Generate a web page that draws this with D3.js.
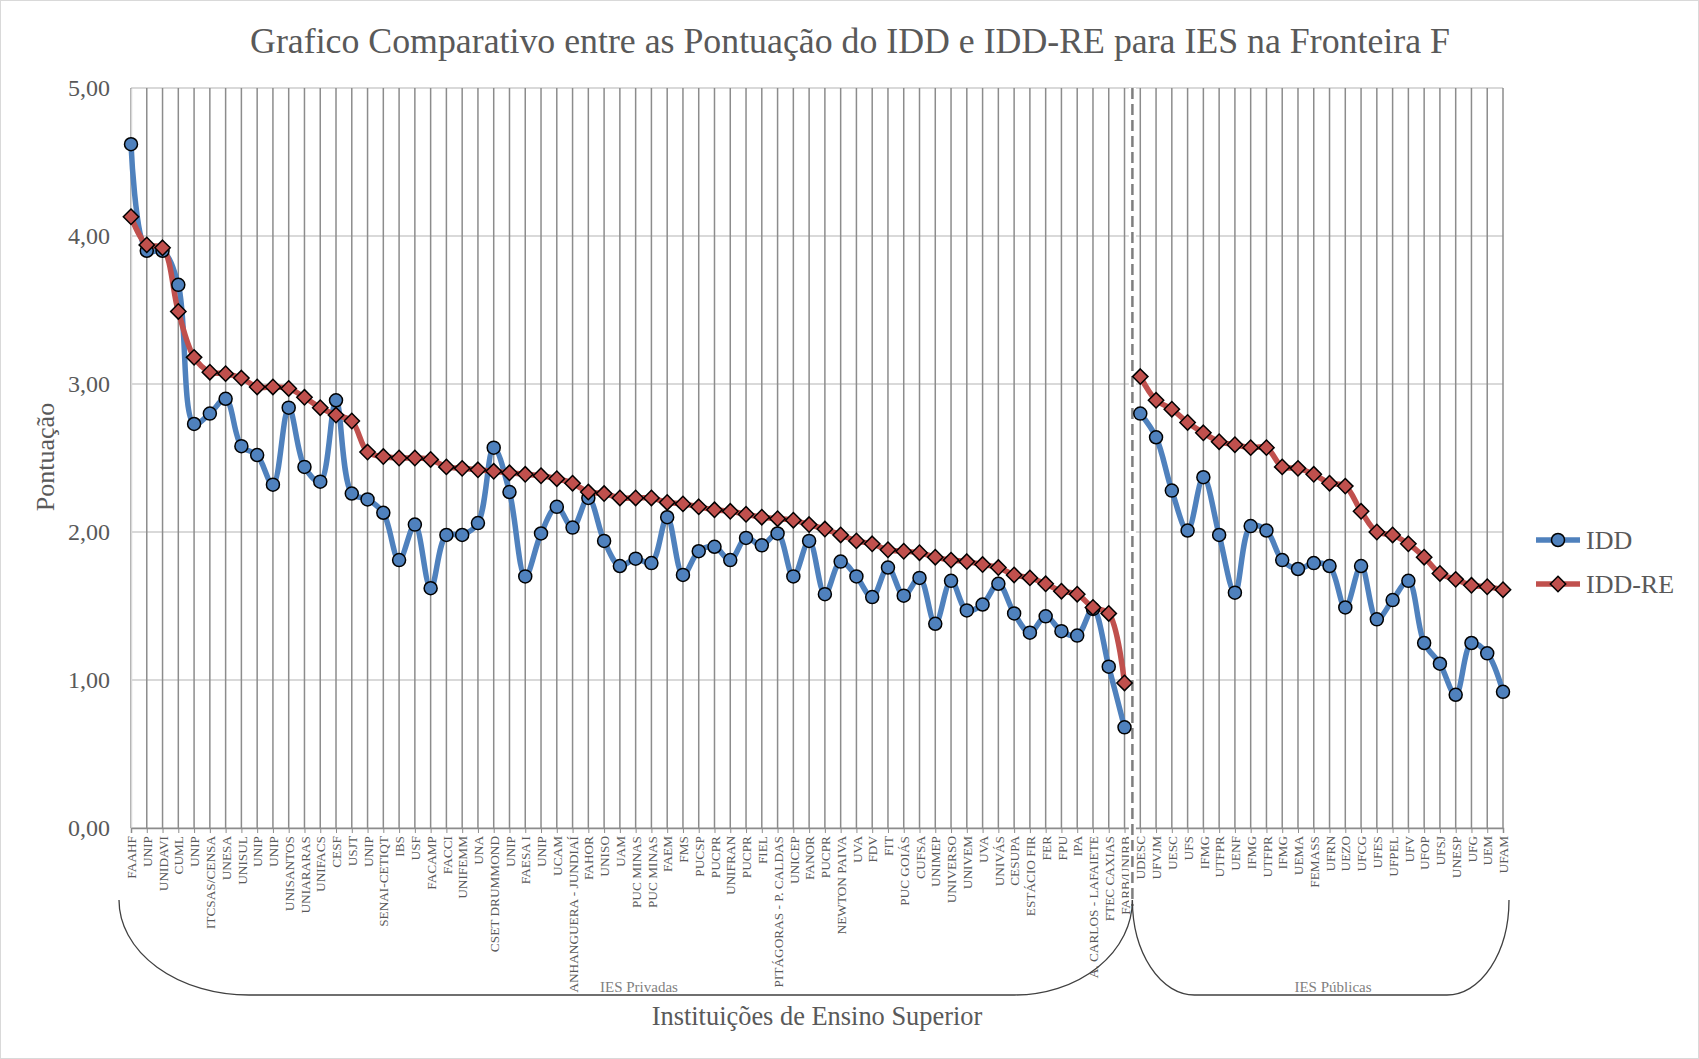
<!DOCTYPE html>
<html>
<head>
<meta charset="utf-8">
<script src="https://cdn.jsdelivr.net/npm/d3@7"></script>
<style>
  body { margin: 0; background: #fff; }
  svg { display: block; font-family: "Liberation Serif", "Times New Roman", serif; }
  .tick text { fill: #595959; }
</style>
</head>
<body>
<div id="chart"></div>
<script>
// categories (private then public)
var privadas = ["FAAHF","UNIP","UNIDAVI","CUML","UNIP","ITCSAS/CENSA","UNESA","UNISUL","UNIP","UNIP",
  "UNISANTOS","UNIARARAS","UNIFACS","CESF","USJT","UNIP","SENAI-CETIQT","IBS","USF","FACAMP",
  "FACCI","UNIFEMM","UNA","CSET DRUMMOND","UNIP","FAESA I","UNIP","UCAM","ANHANGUERA - JUNDIAÍ","FAHOR",
  "UNISO","UAM","PUC MINAS","PUC MINAS","FAEM","FMS","PUCSP","PUCPR","UNIFRAN","PUCPR",
  "FIEL","PITÁGORAS - P. CALDAS","UNICEP","FANOR","PUCPR","NEWTON PAIVA","UVA","FDV","FIT","PUC GOIÁS",
  "CUFSA","UNIMEP","UNIVERSO","UNIVEM","UVA","UNIVÁS","CESUPA","ESTÁCIO FIR","FER","FPU",
  "IPA","A. CARLOS - LAFAIETE","FTEC CAXIAS","FARB/UNIRB"];
var publicas = ["UDESC","UFVJM","UESC","UFS","IFMG","UTFPR","UENF","IFMG","UTFPR","IFMG",
  "UEMA","FEMASS","UFRN","UEZO","UFCG","UFES","UFPEL","UFV","UFOP","UFSJ",
  "UNESP","UFG","UEM","UFAM"];

// IDD scores
var iddPrivadas = [4.62,3.90,3.90,3.67,2.73,2.80,2.90,2.58,2.52,2.32,
  2.84,2.44,2.34,2.89,2.26,2.22,2.13,1.81,2.05,1.62,
  1.98,1.98,2.06,2.57,2.27,1.70,1.99,2.17,2.03,2.23,
  1.94,1.77,1.82,1.79,2.10,1.71,1.87,1.90,1.81,1.96,
  1.91,1.99,1.70,1.94,1.58,1.80,1.70,1.56,1.76,1.57,
  1.69,1.38,1.67,1.47,1.51,1.65,1.45,1.32,1.43,1.33,
  1.30,1.48,1.09,0.68];
var iddPublicas = [2.80,2.64,2.28,2.01,2.37,1.98,1.59,2.04,2.01,1.81,
  1.75,1.79,1.77,1.49,1.77,1.41,1.54,1.67,1.25,1.11,
  0.90,1.25,1.18,0.92];

// IDD-RE scores
var ideRePrivadas = [4.13,3.94,3.92,3.49,3.18,3.08,3.07,3.04,2.98,2.98,
  2.97,2.91,2.84,2.79,2.75,2.54,2.51,2.50,2.50,2.49,
  2.44,2.43,2.42,2.41,2.40,2.39,2.38,2.36,2.33,2.27,
  2.26,2.23,2.23,2.23,2.20,2.19,2.17,2.15,2.14,2.12,
  2.10,2.09,2.08,2.05,2.02,1.98,1.94,1.92,1.88,1.87,
  1.86,1.83,1.81,1.80,1.78,1.76,1.71,1.69,1.65,1.60,
  1.58,1.49,1.45,0.98];
var ideRePublicas = [3.05,2.89,2.83,2.74,2.67,2.61,2.59,2.57,2.57,2.44,
  2.43,2.39,2.33,2.31,2.14,2.00,1.98,1.92,1.83,1.72,
  1.68,1.64,1.63,1.61];

var yTicks = [0,1,2,3,4,5];

var svgWidth = 1699;
var svgHeight = 1059;

// plot area
var plot = { left: 131, right: 1503, top: 88, bottom: 828 };

var categorias = privadas.concat(publicas);
var nPriv = privadas.length;

var svg = d3.select("#chart")
  .append("svg")
  .attr("width", svgWidth)
  .attr("height", svgHeight);

// outer border
svg.append("rect")
  .attr("x", 0.5).attr("y", 0.5)
  .attr("width", svgWidth - 1).attr("height", svgHeight - 1)
  .attr("fill", "#fff")
  .attr("stroke", "#d9d9d9");

var xScale = d3.scalePoint()
  .domain(d3.range(categorias.length))
  .range([plot.left, plot.right]);

var yScale = d3.scaleLinear()
  .domain([0, 5])
  .range([plot.bottom, plot.top]);

// horizontal gridlines
svg.append("g")
  .selectAll("line")
  .data(yTicks)
  .enter()
  .append("line")
  .attr("x1", plot.left).attr("x2", plot.right)
  .attr("y1", d => yScale(d)).attr("y2", d => yScale(d))
  .attr("stroke", "#d9d9d9")
  .attr("stroke-width", 2);

// vertical gridlines
svg.append("g")
  .selectAll("line")
  .data(d3.range(categorias.length))
  .enter()
  .append("line")
  .attr("x1", d => xScale(d)).attr("x2", d => xScale(d))
  .attr("y1", plot.top).attr("y2", plot.bottom)
  .attr("stroke", "#8c8c8c")
  .attr("stroke-width", 1.5);

// y axis
var leftAxis = d3.axisLeft(yScale)
  .tickValues(yTicks)
  .tickSize(0)
  .tickPadding(21)
  .tickFormat(d => d3.format(".2f")(d).replace(".", ","));

var yAxis = svg.append("g")
  .attr("transform", `translate(${plot.left},0)`)
  .call(leftAxis);
yAxis.select(".domain").attr("stroke", "#d9d9d9").attr("stroke-width", 1.5);
yAxis.selectAll("text").attr("font-size", 24).attr("font-family", "Liberation Serif");

// x axis
var bottomAxis = d3.axisBottom(xScale)
  .tickSize(5)
  .tickPadding(3)
  .tickFormat(i => categorias[i]);

var xAxis = svg.append("g")
  .attr("transform", `translate(0,${plot.bottom})`)
  .call(bottomAxis);
xAxis.select(".domain").attr("stroke", "#8c8c8c").attr("stroke-width", 1.5);
xAxis.selectAll(".tick line").attr("stroke", "#8c8c8c");
xAxis.selectAll("text")
  .attr("font-size", 13.3)
  .attr("font-family", "Liberation Serif")
  .attr("text-anchor", "end")
  .attr("transform", "rotate(-90)")
  .attr("x", -8)
  .attr("y", 0)
  .attr("dy", "0.35em");

// dashed separator between private and public
var sepX = (xScale(nPriv - 1) + xScale(nPriv)) / 2;
svg.append("line")
  .attr("x1", sepX).attr("x2", sepX)
  .attr("y1", plot.top).attr("y2", 906)
  .attr("stroke", "#fff")
  .attr("stroke-width", 7);
svg.append("line")
  .attr("x1", sepX).attr("x2", sepX)
  .attr("y1", plot.top).attr("y2", 906)
  .attr("stroke", "#7f7f7f")
  .attr("stroke-width", 2.5)
  .attr("stroke-dasharray", "11,5");

// series
var series = [
  { nome: "IDD", cor: "#4f81bd", priv: iddPrivadas, pub: iddPublicas, marker: "circle" },
  { nome: "IDD-RE", cor: "#c0504d", priv: ideRePrivadas, pub: ideRePublicas, marker: "diamond" }
];

var line = d3.line()
  .x(d => xScale(d.i))
  .y(d => yScale(d.v))
  .curve(d3.curveCatmullRom.alpha(0.5));

function pontos(s) {
  var a = s.priv.map((v, i) => ({ i: i, v: v }));
  var b = s.pub.map((v, i) => ({ i: i + nPriv, v: v }));
  return [a, b];
}

series.forEach(function(s) {
  pontos(s).forEach(function(seg) {
    svg.append("path")
      .datum(seg)
      .attr("d", line)
      .attr("fill", "none")
      .attr("stroke", s.cor)
      .attr("stroke-width", 5.5)
      .attr("stroke-linejoin", "round");
  });
});

var diamond = d3.symbol().type(d3.symbolDiamond2).size(150);

series.forEach(function(s) {
  var pts = pontos(s)[0].concat(pontos(s)[1]);
  var g = svg.append("g");
  if (s.marker === "circle") {
    g.selectAll("circle")
      .data(pts)
      .enter()
      .append("circle")
      .attr("cx", d => xScale(d.i))
      .attr("cy", d => yScale(d.v))
      .attr("r", 6.5)
      .attr("fill", s.cor)
      .attr("stroke", "#000")
      .attr("stroke-width", 1.5);
  } else {
    g.selectAll("path")
      .data(pts)
      .enter()
      .append("path")
      .attr("d", diamond)
      .attr("transform", d => `translate(${xScale(d.i)},${yScale(d.v)})`)
      .attr("fill", s.cor)
      .attr("stroke", "#000")
      .attr("stroke-width", 1.5);
  }
});

// legend
var legend = svg.append("g");
series.forEach(function(s, k) {
  var ly = 540 + k * 44;
  legend.append("line")
    .attr("x1", 1536).attr("x2", 1580)
    .attr("y1", ly).attr("y2", ly)
    .attr("stroke", s.cor)
    .attr("stroke-width", 5.5);
  if (s.marker === "circle") {
    legend.append("circle")
      .attr("cx", 1558).attr("cy", ly).attr("r", 6.5)
      .attr("fill", s.cor).attr("stroke", "#000").attr("stroke-width", 1.5);
  } else {
    legend.append("path")
      .attr("d", diamond)
      .attr("transform", `translate(1558,${ly})`)
      .attr("fill", s.cor).attr("stroke", "#000").attr("stroke-width", 1.5);
  }
  legend.append("text")
    .attr("x", 1586).attr("y", ly + 9)
    .attr("font-size", 26)
    .attr("fill", "#595959")
    .text(s.nome);
});

// brackets under the labels
function chave(x0, x1, rx0, rx1, top, bottom) {
  return `M${x0},${top} A${rx0},${bottom - top} 0 0 0 ${x0 + rx0},${bottom}` +
    ` L${x1 - rx1},${bottom} A${rx1},${bottom - top} 0 0 0 ${x1},${top}`;
}
svg.append("path")
  .attr("d", chave(119, sepX, 130, 118, 900, 995))
  .attr("fill", "none").attr("stroke", "#404040").attr("stroke-width", 1.3);
svg.append("path")
  .attr("d", chave(sepX, 1509, 62, 62, 900, 995))
  .attr("fill", "none").attr("stroke", "#404040").attr("stroke-width", 1.3);

svg.append("text")
  .attr("x", 639).attr("y", 992)
  .attr("text-anchor", "middle")
  .attr("font-size", 15)
  .attr("fill", "#7f7f7f")
  .text("IES Privadas");
svg.append("text")
  .attr("x", 1333).attr("y", 992)
  .attr("text-anchor", "middle")
  .attr("font-size", 15)
  .attr("fill", "#7f7f7f")
  .text("IES Públicas");

// titles
svg.append("text")
  .attr("x", 850).attr("y", 53)
  .attr("text-anchor", "middle")
  .attr("font-size", 35.8)
  .attr("fill", "#595959")
  .text("Grafico Comparativo entre as Pontuação do IDD e IDD-RE para IES na Fronteira F");

svg.append("text")
  .attr("transform", `translate(54,457) rotate(-90)`)
  .attr("text-anchor", "middle")
  .attr("font-size", 26)
  .attr("fill", "#595959")
  .text("Pontuação");

svg.append("text")
  .attr("x", 817).attr("y", 1025)
  .attr("text-anchor", "middle")
  .attr("font-size", 26.4)
  .attr("fill", "#595959")
  .text("Instituições de Ensino Superior");
</script>
</body>
</html>
